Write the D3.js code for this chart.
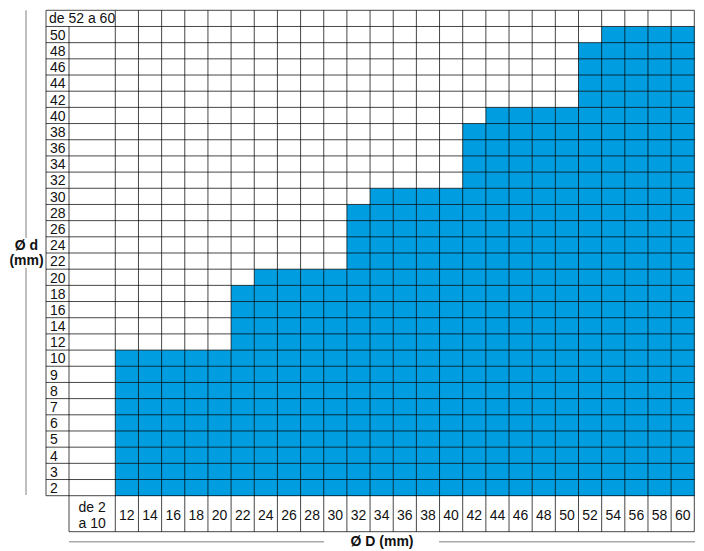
<!DOCTYPE html>
<html>
<head>
<meta charset="utf-8">
<script src="https://cdn.jsdelivr.net/npm/d3@7"></script>
<style>
  body { margin: 0; background: #fff; }
  text { font-family: "Liberation Sans", Arial, Helvetica, sans-serif; fill: #111; }
</style>
</head>
<body>
<div id="chart"></div>
<script>
// Ø D columns (mm)
var colD = [12, 14, 16, 18, 20, 22, 24, 26, 28, 30, 32, 34, 36, 38, 40, 42, 44, 46, 48, 50, 52, 54, 56, 58, 60];
// highest Ø d available for each Ø D
var maxd = [10, 10, 10, 10, 10, 18, 20, 20, 20, 20, 28, 30, 30, 30, 30, 38, 40, 40, 40, 40, 48, 50, 50, 50, 50];
// Ø d rows, top to bottom
var rowD = [50, 48, 46, 44, 42, 40, 38, 36, 34, 32, 30, 28, 26, 24, 22, 20, 18, 16, 14, 12, 10, 9, 8, 7, 6, 5, 4, 3, 2];
var topRowLabel = "de 52 a 60";
var lowColLabel = ["de 2", "a 10"];

var svgWidth = 704;
var svgHeight = 551;

var svg = d3.select("#chart")
    .append("svg")
    .attr("width", svgWidth)
    .attr("height", svgHeight);

var rowKeys = ["top"].concat(rowD);

// Scales
var xScale = d3.scaleBand()
    .domain(colD)
    .range([115.3, 694.3]);

var yScale = d3.scaleBand()
    .domain(rowKeys)
    .range([10.3, 495.7]);

var left = 46, labelRight = 69, gridLeft = 115.3, gridRight = 694.3;
var gridTop = 10.3, gridBottom = 495.7, footBottom = 531.7;
var bw = xScale.bandwidth(), bh = yScale.bandwidth();

// blue cells
var cells = [];
colD.forEach(function(D, i) {
    rowD.forEach(function(d) {
        if (d <= maxd[i]) cells.push({ D: D, d: d });
    });
});

svg.append("g")
    .selectAll("rect")
    .data(cells)
    .enter()
    .append("rect")
    .attr("x", c => xScale(c.D))
    .attr("y", c => yScale(c.d))
    .attr("width", bw + 0.3)
    .attr("height", bh + 0.3)
    .attr("fill", "#009ee0");

// grid lines
var grid = svg.append("g")
    .attr("stroke", "#000")
    .attr("stroke-opacity", 0.72)
    .attr("stroke-width", 1);

// horizontal
rowKeys.forEach(function(k) {
    grid.append("line")
        .attr("x1", left).attr("x2", gridRight)
        .attr("y1", yScale(k)).attr("y2", yScale(k));
});
grid.append("line")
    .attr("x1", left).attr("x2", gridRight)
    .attr("y1", gridBottom).attr("y2", gridBottom);
grid.append("line")
    .attr("x1", labelRight).attr("x2", gridRight)
    .attr("y1", footBottom).attr("y2", footBottom);

// vertical
grid.append("line")
    .attr("x1", left).attr("x2", left)
    .attr("y1", gridTop).attr("y2", gridBottom);
grid.append("line")
    .attr("x1", labelRight).attr("x2", labelRight)
    .attr("y1", yScale(rowD[0])).attr("y2", footBottom);
colD.forEach(function(D) {
    grid.append("line")
        .attr("x1", xScale(D)).attr("x2", xScale(D))
        .attr("y1", gridTop).attr("y2", footBottom);
});
grid.append("line")
    .attr("x1", gridRight).attr("x2", gridRight)
    .attr("y1", gridTop).attr("y2", footBottom);

// row labels
svg.append("text")
    .attr("x", 49)
    .attr("y", yScale("top") + bh / 2 + 5)
    .style("font-size", "14px")
    .text(topRowLabel);

svg.append("g")
    .selectAll("text")
    .data(rowD)
    .enter()
    .append("text")
    .attr("x", 50)
    .attr("y", d => yScale(d) + bh / 2 + 5.3)
    .style("font-size", "14px")
    .text(d => d);

// column labels
svg.append("g")
    .selectAll("text")
    .data(colD)
    .enter()
    .append("text")
    .attr("x", d => xScale(d) + bw / 2)
    .attr("y", 520)
    .attr("text-anchor", "middle")
    .style("font-size", "14px")
    .text(d => d);

svg.append("g")
    .selectAll("text")
    .data(lowColLabel)
    .enter()
    .append("text")
    .attr("x", (labelRight + gridLeft) / 2)
    .attr("y", (d, i) => 511.5 + i * 16.5)
    .attr("text-anchor", "middle")
    .style("font-size", "14px")
    .text(d => d);

// axis titles
var axisLines = svg.append("g")
    .attr("stroke", "#aaa")
    .attr("stroke-width", 1.5);

axisLines.append("line")
    .attr("x1", 26).attr("x2", 26)
    .attr("y1", gridTop).attr("y2", 238);
axisLines.append("line")
    .attr("x1", 26).attr("x2", 26)
    .attr("y1", 268).attr("y2", 495);
axisLines.append("line")
    .attr("x1", labelRight).attr("x2", 324)
    .attr("y1", 541.7).attr("y2", 541.7);
axisLines.append("line")
    .attr("x1", 439).attr("x2", 695)
    .attr("y1", 541.7).attr("y2", 541.7);

svg.append("text")
    .attr("x", 26.5)
    .attr("y", 249.5)
    .attr("text-anchor", "middle")
    .style("font-size", "14px")
    .style("font-weight", "bold")
    .text("Ø d");

svg.append("text")
    .attr("x", 26.5)
    .attr("y", 265)
    .attr("text-anchor", "middle")
    .style("font-size", "14px")
    .style("font-weight", "bold")
    .text("(mm)");

svg.append("text")
    .attr("x", 382)
    .attr("y", 546)
    .attr("text-anchor", "middle")
    .style("font-size", "14px")
    .style("font-weight", "bold")
    .text("Ø D (mm)");
</script>
</body>
</html>
